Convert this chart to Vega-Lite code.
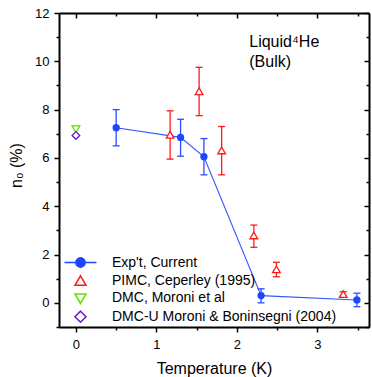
{
  "$schema": "https://vega.github.io/schema/vega-lite/v6.json",
  "width": 310,
  "height": 314,
  "autosize": {"type": "none"},
  "padding": {"left": 59, "top": 13, "right": 3, "bottom": 50},
  "background": "white",
  "config": {
    "view": {"stroke": null},
    "font": "Liberation Sans",
    "axis": {
      "domainColor": "black", "domainWidth": 2, "tickColor": "black", "tickWidth": 1.5,
      "labelFont": "Liberation Sans", "labelFontSize": 13, "labelColor": "black",
      "grid": false, "labelFlush": false, "labelOverlap": false,
      "titleFont": "Liberation Sans", "titleFontSize": 16, "titleFontWeight": "normal", "titleColor": "black"
    },
    "legend": {
      "orient": "none", "legendX": 12, "legendY": 240, "padding": 0,
      "labelFont": "Liberation Sans", "labelFontSize": 14, "labelColor": "black", "labelLimit": 0,
      "symbolSize": 289, "symbolStrokeWidth": 1.5, "rowPadding": 0.4, "labelOffset": 22, "titlePadding": 0
    }
  },
  "datasets": {
    "main": [
      {"series": "Exp't, Current", "T": 0.5, "n": 7.25, "lo": 6.5, "hi": 8.0},
      {"series": "Exp't, Current", "T": 1.3, "n": 6.85, "lo": 6.07, "hi": 7.6},
      {"series": "Exp't, Current", "T": 1.59, "n": 6.05, "lo": 5.3, "hi": 6.8},
      {"series": "Exp't, Current", "T": 2.3, "n": 0.3, "lo": 0.0, "hi": 0.58},
      {"series": "Exp't, Current", "T": 3.49, "n": 0.12, "lo": -0.16, "hi": 0.4},
      {"series": "PIMC, Ceperley (1995)", "T": 1.17, "n": 6.95, "lo": 5.95, "hi": 7.95},
      {"series": "PIMC, Ceperley (1995)", "T": 1.53, "n": 8.75, "lo": 7.75, "hi": 9.75},
      {"series": "PIMC, Ceperley (1995)", "T": 1.81, "n": 6.3, "lo": 5.3, "hi": 7.3},
      {"series": "PIMC, Ceperley (1995)", "T": 2.21, "n": 2.78, "lo": 2.3, "hi": 3.22},
      {"series": "PIMC, Ceperley (1995)", "T": 2.49, "n": 1.38, "lo": 1.08, "hi": 1.68},
      {"series": "PIMC, Ceperley (1995)", "T": 3.32, "n": 0.35, "lo": 0.27, "hi": 0.46},
      {"series": "DMC, Moroni et al", "T": 0.0, "n": 7.2},
      {"series": "DMC-U Moroni & Boninsegni (2004)", "T": 0.0, "n": 6.93}
    ],
    "note": [
      {"T": 2.153, "n": 10.61, "label": "Liquid⁴He\n(Bulk)"}
    ]
  },
  "layer": [
    {
      "data": {"name": "main"},
      "transform": [{"filter": {"field": "series", "equal": "Exp't, Current"}}],
      "mark": {"type": "line", "color": "#3355ff", "strokeWidth": 1.1},
      "encoding": {
        "x": {"field": "T", "type": "quantitative",
          "scale": {"domain": [-0.21, 3.64], "nice": false, "zero": false},
          "axis": {"orient": "bottom", "values": [0, 1, 2, 3], "tickSize": 5, "labelPadding": 6,
            "title": "Temperature (K)", "titleY": 46, "titleBaseline": "alphabetic"}},
        "y": {"field": "n", "type": "quantitative",
          "scale": {"domain": [-1, 12], "nice": false, "zero": false},
          "axis": {"orient": "left", "values": [0, 2, 4, 6, 8, 10, 12], "tickSize": 5, "labelPadding": 5,
            "title": "n₀ (%)", "titleX": -38, "titleY": 152, "titleAngle": 270,
            "titleBaseline": "alphabetic", "titleAlign": "center"}}
      }
    },
    {
      "data": {"name": "main"},
      "transform": [{"filter": {"field": "lo", "valid": true}}],
      "mark": {"type": "rule", "strokeWidth": 1.3},
      "encoding": {
        "x": {"field": "T", "type": "quantitative",
          "axis": {"orient": "bottom", "values": [0.5, 1.5, 2.5, 3.5], "tickSize": 3, "labels": false, "domain": false, "title": null}},
        "y": {"field": "lo", "type": "quantitative",
          "axis": {"orient": "left", "values": [-1, 1, 3, 5, 7, 9, 11], "tickSize": 3, "labels": false, "domain": false, "title": null}},
        "y2": {"field": "hi"},
        "stroke": {"condition": {"test": {"field": "series", "equal": "Exp't, Current"}, "value": "#2a4dff"}, "value": "#ff1a1a"}
      }
    },
    {
      "data": {"name": "main"},
      "transform": [{"filter": {"field": "lo", "valid": true}}],
      "mark": {"type": "tick", "orient": "horizontal", "size": 7, "thickness": 1.3, "opacity": 1},
      "encoding": {
        "x": {"field": "T", "type": "quantitative",
          "axis": {"orient": "top", "values": [0, 1, 2, 3], "tickSize": -5, "labels": false, "title": null}},
        "y": {"field": "lo", "type": "quantitative",
          "axis": {"orient": "right", "values": [0, 2, 4, 6, 8, 10, 12], "tickSize": -5, "labels": false, "title": null}},
        "color": {"condition": {"test": {"field": "series", "equal": "Exp't, Current"}, "value": "#2a4dff"}, "value": "#ff1a1a"}
      }
    },
    {
      "data": {"name": "main"},
      "transform": [{"filter": {"field": "lo", "valid": true}}],
      "mark": {"type": "tick", "orient": "horizontal", "size": 7, "thickness": 1.3, "opacity": 1},
      "encoding": {
        "x": {"field": "T", "type": "quantitative",
          "axis": {"orient": "top", "values": [0.5, 1.5, 2.5, 3.5], "tickSize": -3, "labels": false, "domain": false, "title": null}},
        "y": {"field": "hi", "type": "quantitative",
          "axis": {"orient": "right", "values": [-1, 1, 3, 5, 7, 9, 11], "tickSize": -3, "labels": false, "domain": false, "title": null}},
        "color": {"condition": {"test": {"field": "series", "equal": "Exp't, Current"}, "value": "#2a4dff"}, "value": "#ff1a1a"}
      }
    },
    {
      "data": {"name": "main"},
      "transform": [{"filter": {"not": {"field": "series", "equal": "Exp't, Current"}}}],
      "mark": {"type": "point", "size": 140, "strokeWidth": 1.3, "opacity": 1},
      "encoding": {
        "x": {"field": "T", "type": "quantitative", "axis": null},
        "y": {"field": "n", "type": "quantitative", "axis": null},
        "shape": {"field": "series", "type": "nominal",
          "scale": {"domain": ["Exp't, Current", "PIMC, Ceperley (1995)", "DMC, Moroni et al", "DMC-U Moroni & Boninsegni (2004)"],
            "range": ["M-1.88,0H1.88M0.55,0A0.55,0.55,0,1,1,-0.55,0A0.55,0.55,0,1,1,0.55,0Z",
              "M0,-0.6L0.65,0.52L-0.65,0.52Z",
              "M0,0.6L0.65,-0.52L-0.65,-0.52Z",
              "M0,-0.65L0.65,0L0,0.65L-0.65,0Z"]},
          "legend": {"title": null}},
        "fill": {"field": "series", "type": "nominal",
          "scale": {"domain": ["Exp't, Current", "PIMC, Ceperley (1995)", "DMC, Moroni et al", "DMC-U Moroni & Boninsegni (2004)"],
            "range": ["#1e46ff", "white", "white", "white"]},
          "legend": {"title": null}},
        "stroke": {"field": "series", "type": "nominal",
          "scale": {"domain": ["Exp't, Current", "PIMC, Ceperley (1995)", "DMC, Moroni et al", "DMC-U Moroni & Boninsegni (2004)"],
            "range": ["#1e46ff", "#ff1a1a", "#5ee000", "#6a18d0"]},
          "legend": {"title": null}}
      }
    },
    {
      "data": {"name": "main"},
      "transform": [{"filter": {"field": "series", "equal": "Exp't, Current"}}],
      "mark": {"type": "circle", "size": 53, "color": "#1e46ff", "opacity": 1},
      "encoding": {
        "x": {"field": "T", "type": "quantitative", "axis": null},
        "y": {"field": "n", "type": "quantitative", "axis": null}
      }
    },
    {
      "data": {"name": "note"},
      "mark": {"type": "text", "align": "left", "baseline": "alphabetic", "fontSize": 16, "lineHeight": 20,
        "lineBreak": "\n", "font": "Liberation Sans", "color": "black"},
      "encoding": {
        "x": {"field": "T", "type": "quantitative", "axis": null},
        "y": {"field": "n", "type": "quantitative", "axis": null},
        "text": {"field": "label"}
      }
    }
  ],
  "resolve": {"axis": {"x": "independent", "y": "independent"}}
}
